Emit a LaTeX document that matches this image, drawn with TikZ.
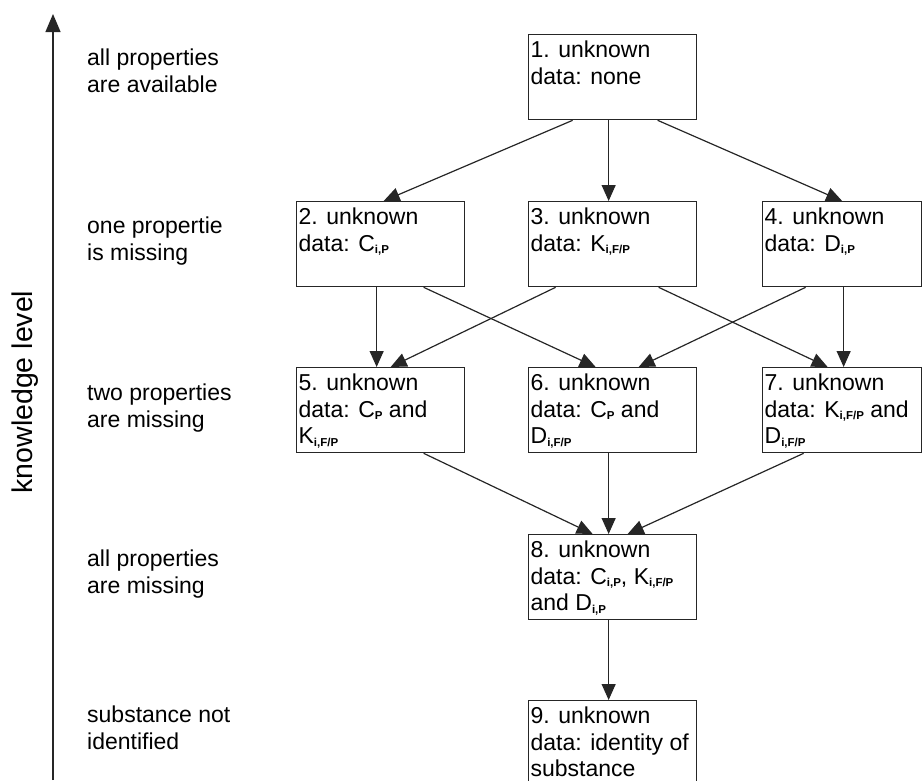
\documentclass[tikz,border=0pt]{standalone}
\usepackage{fontspec}
\setmainfont{Liberation Sans}
\usetikzlibrary{arrows.meta}
\newcommand{\subs}[1]{\raisebox{-2.5pt}{\fontsize{11.5}{12}\selectfont\bfseries #1}}
\newcommand{\boxtxt}[2][164pt]{\parbox[t][73pt][t]{#1}{#2}}
\begin{document}
\begin{tikzpicture}[x=1pt,y=-1pt,
  font=\fontsize{23}{26.7}\selectfont,
  st/.style={draw=black!85,line width=1.3pt,anchor=north west,inner xsep=2pt,inner ysep=6pt},
  lbl/.style={anchor=north west,inner sep=0pt,align=left},
  con/.style={black!85,line width=1.2pt,-{Triangle[length=16pt,width=14pt]}}]
\useasboundingbox (0,0) rectangle (922,780);
\clip (0,0) rectangle (922,780);
% knowledge axis
\coordinate (axb) at (53,780); \coordinate (axt) at (53,14);
\draw[black!85,line width=1.3pt,-{Triangle[length=18pt,width=15pt]}] (axb) -- (axt);
\node[rotate=90,anchor=base,inner sep=0pt,font=\fontsize{28.5}{30}\selectfont] (axl) at (32,392) {knowledge level};
% level labels
\node[lbl] (l1) at (87,48.5) {all properties\\are available};
\node[lbl] (l2) at (87,217) {one propertie\\is missing};
\node[lbl] (l3) at (87,384) {two properties\\are missing};
\node[lbl] (l4) at (87,550) {all properties\\are missing};
\node[lbl] (l5) at (87,706) {substance not\\identified};
% states
\node[st] (b1) at (528,34) {\boxtxt{1. unknown\\data: none}};
\node[st] (b2) at (296,201) {\boxtxt{2. unknown\\data: C\subs{i,P}}};
\node[st] (b3) at (528,201) {\boxtxt{3. unknown\\data: K\subs{i,F/P}}};
\node[st] (b4) at (762,201) {\boxtxt[155pt]{4. unknown\\data: D\subs{i,P}}};
\node[st] (b5) at (296,367) {\boxtxt{5. unknown\\data: C\subs{P} and\\K\subs{i,F/P}}};
\node[st] (b6) at (528,367) {\boxtxt{6. unknown\\data: C\subs{P} and\\D\subs{i,F/P}}};
\node[st] (b7) at (762,367) {\boxtxt[155pt]{7. unknown\\data: K\subs{i,F/P} and\\D\subs{i,F/P}}};
\node[st] (b8) at (528,534) {\boxtxt{8. unknown\\data: C\subs{i,P}, K\subs{i,F/P}\\and D\subs{i,P}}};
\node[st] (b9) at (528,700) {\boxtxt{9. unknown\\data: identity of\\substance}};
% transitions
\draw[con] ([xshift=-40pt]b1.south) -- ([xshift=3pt]b2.north);
\draw[con] ([xshift=-4pt]b1.south) -- ([xshift=-4pt]b3.north);
\draw[con] ([xshift=45pt]b1.south) -- (b4.north);
\draw[con] ([xshift=-4pt]b2.south) -- ([xshift=-4pt]b5.north);
\draw[con] ([xshift=43pt]b2.south) -- ([xshift=-17pt]b6.north);
\draw[con] ([xshift=-57pt]b3.south) -- ([xshift=10pt]b5.north);
\draw[con] ([xshift=46pt]b3.south) -- ([xshift=-14.5pt]b7.north);
\draw[con] ([xshift=-36.5pt]b4.south) -- ([xshift=26pt]b6.north);
\draw[con] ([xshift=1.5pt]b4.south) -- ([xshift=1.5pt]b7.north);
\draw[con] ([xshift=43pt]b5.south) -- ([xshift=-20pt]b8.north);
\draw[con] ([xshift=-4pt]b6.south) -- ([xshift=-4pt]b8.north);
\draw[con] ([xshift=-38.5pt]b7.south) -- ([xshift=15pt]b8.north);
\draw[con] ([xshift=-4pt]b8.south) -- ([xshift=-4pt]b9.north);
\end{tikzpicture}
\end{document}
